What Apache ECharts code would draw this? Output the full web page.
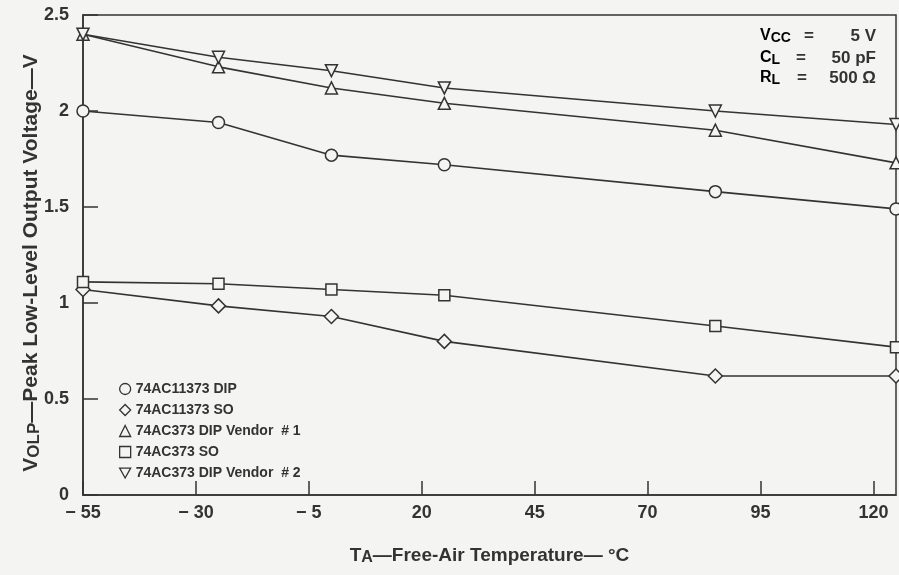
<!DOCTYPE html>
<html>
<head>
<meta charset="utf-8">
<script src="https://cdn.jsdelivr.net/npm/echarts@6/dist/echarts.min.js"></script>
<style>
html,body{margin:0;padding:0;background:#f4f4f2;}
#chart{width:899px;height:575px;}
</style>
</head>
<body>
<div id="chart"></div>
<script>
// ---- data ----
var tempC = [-55, -25, 0, 25, 85, 125];
var seriesNames = ['74AC11373 DIP', '74AC11373 SO', '74AC373 DIP Vendor  # 1', '74AC373 SO', '74AC373 DIP Vendor  # 2'];
var dip11373 = [2.0, 1.94, 1.77, 1.72, 1.58, 1.49];
var so11373 = [1.07, 0.985, 0.93, 0.8, 0.62, 0.62];
var dip373v1 = [2.4, 2.23, 2.12, 2.04, 1.9, 1.73];
var so373 = [1.11, 1.1, 1.07, 1.04, 0.88, 0.77];
var dip373v2 = [2.4, 2.28, 2.21, 2.12, 2.0, 1.93];
var xTicks = [-55, -30, -5, 20, 45, 70, 95, 120];
var yTicks = [0, 0.5, 1, 1.5, 2, 2.5];

var INK = '#333333';
var BG = '#f4f4f2';
var FONT = '"Liberation Sans", Arial, sans-serif';

function pairs(vals) {
  return tempC.map(function (t, i) { return [t, vals[i]]; });
}
function mkSeries(name, vals, symbol, size, rotate) {
  return {
    name: name, type: 'line', data: pairs(vals),
    symbol: symbol, symbolSize: size, symbolRotate: rotate || 0,
    showAllSymbol: true, clip: false,
    lineStyle: { color: INK, width: 1.6 },
    itemStyle: { color: BG, borderColor: INK, borderWidth: 1.5 },
    emphasis: { disabled: true }, animation: false
  };
}

var chart = echarts.init(document.getElementById('chart'), null, { renderer: 'canvas' });

function mainTokOf(size) {
  return { fontSize: size, fontWeight: 'bold', fontFamily: FONT, color: INK, lineHeight: size + 1, verticalAlign: 'top', padding: [0, 0, 5, 0] };
}
function subTokOf(size) {
  return { fontSize: size, fontWeight: 'bold', fontFamily: FONT, color: INK, lineHeight: size, verticalAlign: 'bottom' };
}

function paramLabel(main, sub, y) {
  return {
    type: 'text', x: 760, y: y, silent: true,
    style: { text: '{m|' + main + '}{s|' + sub + '}', rich: { m: mainTokOf(16), s: subTokOf(14) }, align: 'left', verticalAlign: 'top' }
  };
}
function plainText(txt, x, y, align) {
  return {
    type: 'text', x: x, y: y, silent: true,
    style: { text: txt, font: 'bold 17px ' + FONT, fill: INK, align: align, verticalAlign: 'middle' }
  };
}

var option = {
  backgroundColor: BG,
  animation: false,
  grid: { left: 83, right: 3, top: 15, bottom: 77, show: true, borderColor: INK, borderWidth: 1.5, backgroundColor: 'transparent' },
  xAxis: {
    type: 'value', min: -55, max: 125, interval: 25,
    axisLine: { onZero: false, lineStyle: { color: INK, width: 1.5 } },
    axisTick: { inside: true, length: 14, lineStyle: { color: INK, width: 1.5 } },
    splitLine: { show: false },
    axisLabel: {
      showMaxLabel: false, margin: 9, color: INK, fontSize: 18, fontWeight: 'bold', fontFamily: FONT,
      formatter: function (v) { return xTicks.indexOf(v) < 0 ? '' : (v < 0 ? '\u2212 ' + Math.abs(v) : String(v)); }
    },
    name: '{m|T}{s|A}{m|\u2014Free-Air Temperature\u2014 \u00B0C}',
    nameLocation: 'middle', nameGap: 51, nameMoveOverlap: false,
    nameTextStyle: { rich: { m: mainTokOf(19), s: subTokOf(16) } }
  },
  yAxis: {
    type: 'value', min: 0, max: 2.5, interval: 0.5,
    axisLine: { show: true, onZero: false, lineStyle: { color: INK, width: 1.5 } },
    axisTick: { show: true, inside: true, length: 15, lineStyle: { color: INK, width: 1.5 } },
    splitLine: { show: false },
    axisLabel: {
      margin: 14, color: INK, fontSize: 18, fontWeight: 'bold', fontFamily: FONT,
      formatter: function (v) { return yTicks.indexOf(v) < 0 ? '' : String(v); }
    },
    name: '{m|V}{s|OLP}{m|\u2014Peak Low-Level Output Voltage\u2014V}',
    nameLocation: 'middle', nameGap: 40, nameMoveOverlap: false,
    nameTextStyle: { padding: [0, 16, 0, 0], rich: { m: mainTokOf(21), s: subTokOf(17) } }
  },
  legend: {
    orient: 'vertical', left: 114, top: 377, itemGap: 7,
    itemWidth: 11, itemHeight: 11,
    selectedMode: false,
    textStyle: { color: INK, fontSize: 14, fontWeight: 'bold', fontFamily: FONT, lineHeight: 14 },
    itemStyle: { color: BG, borderColor: INK, borderWidth: 1.3 },
    data: [
      { name: seriesNames[0], icon: 'circle' },
      { name: seriesNames[1], icon: 'diamond' },
      { name: seriesNames[2], icon: 'triangle' },
      { name: seriesNames[3], icon: 'rect' },
      { name: seriesNames[4], icon: 'path://M0,0L10,0L5,9Z' }
    ]
  },
  graphic: [
    paramLabel('V', 'CC', 28),
    paramLabel('C', 'L', 50),
    paramLabel('R', 'L', 70),
    plainText('=', 809, 36, 'center'),
    plainText('=', 801, 58, 'center'),
    plainText('=', 802, 78, 'center'),
    plainText('5 V', 876, 36, 'right'),
    plainText('50 pF', 876, 58, 'right'),
    plainText('500 \u03A9', 876, 78, 'right')
  ],
  series: [
    mkSeries(seriesNames[0], dip11373, 'circle', 12),
    mkSeries(seriesNames[1], so11373, 'diamond', 14),
    mkSeries(seriesNames[2], dip373v1, 'triangle', 12),
    mkSeries(seriesNames[3], so373, 'rect', 11),
    mkSeries(seriesNames[4], dip373v2, 'triangle', 12, 180)
  ]
};
chart.setOption(option);
</script>
</body>
</html>
